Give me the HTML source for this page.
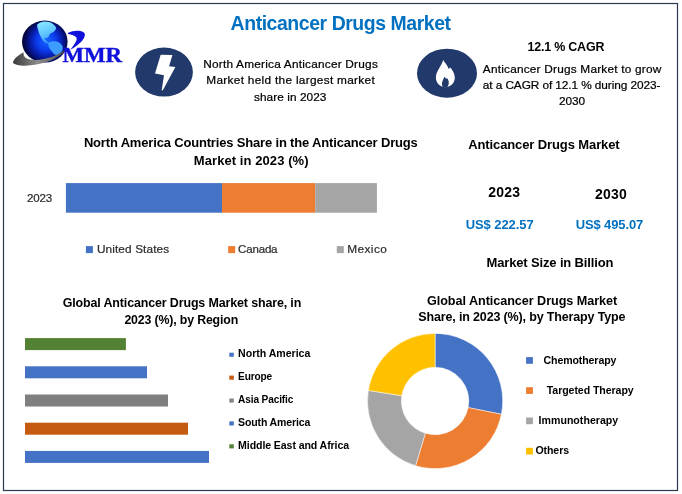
<!DOCTYPE html>
<html><head><meta charset="utf-8"><title>Anticancer Drugs Market</title>
<style>
html,body{margin:0;padding:0;background:#fff;}
body{width:682px;height:494px;overflow:hidden;position:relative;}
svg{position:absolute;left:0;top:0;display:block;font-family:"Liberation Sans", sans-serif;}
</style></head><body>
<svg width="682" height="494" viewBox="0 0 682 494">
<rect x="0" y="0" width="682" height="494" fill="#fff"/>
<rect x="3.5" y="3.5" width="674" height="487" fill="none" stroke="#2B3950" stroke-width="1.2"/>

<defs>
<radialGradient id="gl" gradientUnits="userSpaceOnUse" cx="46" cy="42" r="24" fx="47" fy="40">
<stop offset="0" stop-color="#1668ff"/><stop offset="0.4" stop-color="#0b3cee"/><stop offset="0.66" stop-color="#071ca8"/><stop offset="0.86" stop-color="#030a58"/><stop offset="1" stop-color="#02052e"/>
</radialGradient>
<linearGradient id="sw" x1="0" y1="0" x2="1" y2="0"><stop offset="0" stop-color="#3a3a3a"/><stop offset="0.45" stop-color="#8c8c8c"/><stop offset="1" stop-color="#4a4a50"/></linearGradient>
<linearGradient id="na" x1="0" y1="0" x2="0.3" y2="1"><stop offset="0" stop-color="#8cecff"/><stop offset="0.6" stop-color="#62c6ff"/><stop offset="1" stop-color="#3a9cff"/></linearGradient>
</defs>
<ellipse cx="44.8" cy="41.6" rx="22.8" ry="21" fill="url(#gl)"/>
<path d="M37.2 24.5C39.5 22.6 42 21.6 44.8 21.6C48 21.6 51 22.4 53 23.9C55 25.5 56.4 27 56 28.8C55.5 30.3 54.3 31.2 53 32.2C52 33 51 33 50.2 33.8C49.3 35 49.2 36.3 48.2 37.2C47 38.2 45.3 37.6 44.7 38.6C44.3 39.8 46 40.6 47 41.5C47.8 42.2 48.5 42.8 48.8 43.4C47 43.6 45.5 43 44.4 42C42.8 40.5 41.6 39 40.9 37.1C40 34.8 38.8 33 38.4 31C38 28.8 36.8 26.5 37.2 24.5Z" fill="url(#na)"/>
<path d="M48.2 42.8C50.5 41.5 54 41 56.7 41.6C59.5 42.5 62 44.5 62.8 46.9C63.3 48.8 62.6 50.4 61.5 51.7C60.2 53.2 58.5 54.5 56.7 54.9C55 54.9 53.8 54 53 52.9C51.6 51.2 50.2 49.8 49.4 48.1C48.6 46.3 47.9 44.5 48.2 42.8Z" fill="#3d9cff"/>
<path d="M12.9 62.7C13.8 58.5 18.3 55 23.8 52.2C22.6 55.8 25.5 59.2 32.5 59.8C44 60.6 58 56.2 67.7 47.8C61 57 49 62.3 36.5 64.6C26.5 66.4 15.8 66 12.9 62.7Z" fill="url(#sw)"/>
<path d="M67.8 33C71 31.5 74 30.8 77 30.7C81 30.6 84.7 31.8 84.9 34.5C85.1 38 81 42.5 77 45.6C75 47.1 73 48.4 70 50C72.8 46.6 75.6 43 76.6 40C77.4 37.3 75.3 35.5 67.9 33.8Z" fill="#1010dc"/>
<text x="62.5" y="61.8" font-family="'Liberation Serif', serif" font-weight="700" font-size="20.4" fill="#1010dc" stroke="#1010dc" stroke-width="0.35" textLength="59.6" lengthAdjust="spacingAndGlyphs">MMR</text>

<rect x="65.9" y="183.1" width="156.1" height="29.6" fill="#4472C4"/>
<rect x="222.0" y="183.1" width="93.2" height="29.6" fill="#ED7D31"/>
<rect x="315.2" y="183.1" width="61.7" height="29.6" fill="#A5A5A5"/>
<rect x="85.9" y="246.1" width="7.0" height="7.0" fill="#4472C4"/>
<rect x="228.2" y="246.1" width="7.0" height="7.0" fill="#ED7D31"/>
<rect x="336.8" y="246.1" width="7.0" height="7.0" fill="#A5A5A5"/>
<rect x="25.0" y="338.1" width="100.9" height="12.0" fill="#548235"/>
<rect x="25.0" y="366.3" width="122.0" height="12.0" fill="#4472C4"/>
<rect x="25.0" y="394.5" width="143.0" height="12.0" fill="#7F7F7F"/>
<rect x="25.0" y="422.7" width="163.0" height="12.0" fill="#C55A11"/>
<rect x="25.0" y="450.9" width="184.0" height="12.0" fill="#4472C4"/>
<rect x="229.3" y="352.7" width="4.5" height="4.1" fill="#4472C4"/>
<rect x="229.3" y="375.6" width="4.5" height="4.1" fill="#C55A11"/>
<rect x="229.3" y="398.5" width="4.5" height="4.1" fill="#858585"/>
<rect x="229.3" y="421.4" width="4.5" height="4.1" fill="#4472C4"/>
<rect x="229.3" y="444.3" width="4.5" height="4.1" fill="#548235"/>
<rect x="526.1" y="357.1" width="6.8" height="6.7" fill="#4472C4"/>
<rect x="526.1" y="387.2" width="6.8" height="6.7" fill="#ED7D31"/>
<rect x="526.1" y="417.5" width="6.8" height="6.7" fill="#A5A5A5"/>
<rect x="526.1" y="447.8" width="6.8" height="6.7" fill="#FFC000"/>
<path d="M435.10 333.40A67.6 67.6 0 0 1 501.39 414.25L468.15 407.60A33.7 33.7 0 0 0 435.10 367.30Z" fill="#4472C4" stroke="#fff" stroke-width="0.5"/>
<path d="M501.39 414.25A67.6 67.6 0 0 1 415.56 465.71L425.36 433.26A33.7 33.7 0 0 0 468.15 407.60Z" fill="#ED7D31" stroke="#fff" stroke-width="0.5"/>
<path d="M415.56 465.71A67.6 67.6 0 0 1 368.33 390.43L401.81 395.73A33.7 33.7 0 0 0 425.36 433.26Z" fill="#A5A5A5" stroke="#fff" stroke-width="0.5"/>
<path d="M368.33 390.43A67.6 67.6 0 0 1 435.10 333.40L435.10 367.30A33.7 33.7 0 0 0 401.81 395.73Z" fill="#FFC000" stroke="#fff" stroke-width="0.5"/>
<ellipse cx="164" cy="72.1" rx="28.9" ry="24.5" fill="#213A6B"/>
<path d="M160.7 54.7L172.4 54.9L169.1 66.2L175.4 67.1L162.7 90.4L161.7 90L164 75.3L155 73.6Z" fill="#fff"/>
<ellipse cx="447" cy="73.2" rx="30" ry="24.5" fill="#213A6B"/>
<path d="M443.2 60.1C445 63 447.6 65.8 448.7 69C449.3 68.5 449.8 67.9 450 67.3C452.6 70 454.8 73.6 454.8 77.6C454.8 83 450.8 87.2 445.3 87.2C439.8 87.2 435.9 83 435.9 77.6C435.9 71 441.5 66.5 443.2 60.1Z" fill="#fff"/>
<path d="M444.4 76.7C445 77.6 445.7 78 446.1 78.7C446.4 78.5 446.7 78.2 447 77.9C448.3 79.5 448.9 81.3 448.8 83C448.7 84.8 448 86.3 447 87.6L443.2 87.6C442.3 86.3 441.9 84.8 442 83.2C442.2 80.6 443.7 79 444.4 76.7Z" fill="#213A6B"/>
<text x="230.6" y="29.9" font-size="19.43" font-weight="700" fill="#0070C0" textLength="220.4" lengthAdjust="spacing">Anticancer Drugs Market</text>
<text x="203.2" y="68.3" font-size="11.84" font-weight="400" fill="#000" stroke="#000" stroke-width="0.22" textLength="174.6" lengthAdjust="spacing">North America Anticancer Drugs</text>
<text x="206.3" y="84.4" font-size="11.84" font-weight="400" fill="#000" stroke="#000" stroke-width="0.22" textLength="168.4" lengthAdjust="spacing">Market held the largest market</text>
<text x="254.0" y="100.6" font-size="11.84" font-weight="400" fill="#000" stroke="#000" stroke-width="0.22" textLength="72.4" lengthAdjust="spacing">share in 2023</text>
<text x="527.4" y="50.8" font-size="12.46" font-weight="700" fill="#000" textLength="77.0" lengthAdjust="spacing">12.1 % CAGR</text>
<text x="482.8" y="73.0" font-size="11.84" font-weight="400" fill="#000" stroke="#000" stroke-width="0.22" textLength="178.5" lengthAdjust="spacing">Anticancer Drugs Market to grow</text>
<text x="482.8" y="88.9" font-size="11.84" font-weight="400" fill="#000" stroke="#000" stroke-width="0.22" textLength="177.6" lengthAdjust="spacing">at a CAGR of 12.1 % during 2023-</text>
<text x="559.1" y="105.2" font-size="11.84" font-weight="400" fill="#000" stroke="#000" stroke-width="0.22" textLength="25.9" lengthAdjust="spacing">2030</text>
<text x="468.2" y="148.9" font-size="12.99" font-weight="700" fill="#000" textLength="151.5" lengthAdjust="spacing">Anticancer Drugs Market</text>
<text x="488.3" y="196.8" font-size="13.97" font-weight="700" fill="#000" textLength="31.7" lengthAdjust="spacing">2023</text>
<text x="595.0" y="199.0" font-size="13.97" font-weight="700" fill="#000" textLength="31.8" lengthAdjust="spacing">2030</text>
<text x="465.7" y="228.9" font-size="12.99" font-weight="700" fill="#0070C0" textLength="68.0" lengthAdjust="spacing">US$ 222.57</text>
<text x="575.7" y="228.9" font-size="12.99" font-weight="700" fill="#0070C0" textLength="67.6" lengthAdjust="spacing">US$ 495.07</text>
<text x="486.5" y="267.3" font-size="12.99" font-weight="700" fill="#000" textLength="126.9" lengthAdjust="spacing">Market Size in Billion</text>
<text x="83.9" y="147.2" font-size="12.98" font-weight="700" fill="#000" textLength="333.9" lengthAdjust="spacing">North America Countries Share in the Anticancer Drugs</text>
<text x="193.8" y="164.9" font-size="12.99" font-weight="700" fill="#000" textLength="114.7" lengthAdjust="spacing">Market in 2023 (%)</text>
<text x="27.1" y="201.8" font-size="11.56" font-weight="400" fill="#2d2d2d" stroke="#2d2d2d" stroke-width="0.22" textLength="25.1" lengthAdjust="spacing">2023</text>
<text x="96.9" y="252.9" font-size="11.84" font-weight="400" fill="#2d2d2d" stroke="#2d2d2d" stroke-width="0.22" textLength="72.3" lengthAdjust="spacing">United States</text>
<text x="238.1" y="252.9" font-size="11.53" font-weight="400" fill="#2d2d2d" stroke="#2d2d2d" stroke-width="0.22" textLength="39.4" lengthAdjust="spacing">Canada</text>
<text x="347.3" y="252.9" font-size="11.84" font-weight="400" fill="#2d2d2d" stroke="#2d2d2d" stroke-width="0.22" textLength="39.5" lengthAdjust="spacing">Mexico</text>
<text x="62.7" y="306.8" font-size="12.46" font-weight="700" fill="#000" textLength="238.6" lengthAdjust="spacing">Global Anticancer Drugs Market share, in</text>
<text x="124.4" y="324.4" font-size="12.35" font-weight="700" fill="#000" textLength="113.8" lengthAdjust="spacing">2023 (%), by Region</text>
<text x="238.1" y="357.0" font-size="10.59" font-weight="700" fill="#000" textLength="72.2" lengthAdjust="spacing">North America</text>
<text x="238.1" y="379.9" font-size="10.15" font-weight="700" fill="#000" textLength="34.1" lengthAdjust="spacing">Europe</text>
<text x="238.1" y="402.8" font-size="10.10" font-weight="700" fill="#000" textLength="55.3" lengthAdjust="spacing">Asia Pacific</text>
<text x="238.1" y="425.7" font-size="10.54" font-weight="700" fill="#000" textLength="72.2" lengthAdjust="spacing">South America</text>
<text x="238.1" y="448.6" font-size="10.59" font-weight="700" fill="#000" textLength="111.0" lengthAdjust="spacing">Middle East and Africa</text>
<text x="427.0" y="305.3" font-size="12.64" font-weight="700" fill="#000" textLength="190.2" lengthAdjust="spacing">Global Anticancer Drugs Market</text>
<text x="418.3" y="321.3" font-size="12.50" font-weight="700" fill="#000" textLength="207.2" lengthAdjust="spacing">Share, in 2023 (%), by Therapy Type</text>
<text x="543.5" y="363.9" font-size="10.59" font-weight="700" fill="#000" textLength="72.9" lengthAdjust="spacing">Chemotherapy</text>
<text x="546.7" y="393.8" font-size="10.59" font-weight="700" fill="#000" textLength="87.0" lengthAdjust="spacing">Targeted Therapy</text>
<text x="538.6" y="423.8" font-size="10.59" font-weight="700" fill="#000" textLength="79.6" lengthAdjust="spacing">Immunotherapy</text>
<text x="535.4" y="454.4" font-size="10.59" font-weight="700" fill="#000" textLength="33.7" lengthAdjust="spacing">Others</text>
</svg>
</body></html>
